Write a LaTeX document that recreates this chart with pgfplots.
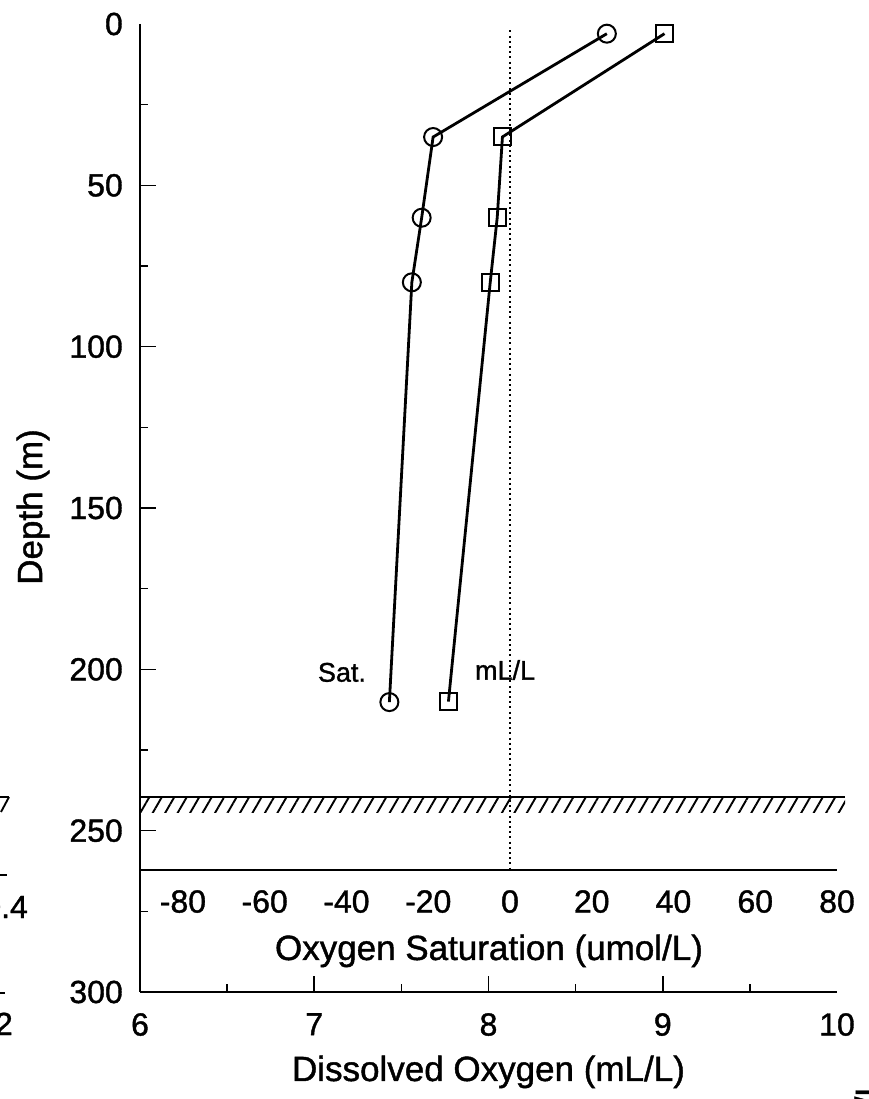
\documentclass[border=0pt]{standalone}
\usepackage{fontspec}
\setmainfont{Liberation Sans}
\newfontfamily\heavysans{Liberation Sans}[FakeBold=1.2]
\usepackage{pgfplots}
\pgfplotsset{compat=1.18}
\usetikzlibrary{patterns.meta}

\newcommand\tickfont{\heavysans\fontsize{32}{38}\selectfont}
\newcommand\titlefont{\heavysans\fontsize{35}{42}\selectfont}
\newcommand\notefont{\heavysans\fontsize{27}{32}\selectfont}

% Oxygen saturation anomaly (circles) and dissolved oxygen (squares) vs depth
\pgfplotstableread{
sat    depth
23.7   3
-18.8  35
-21.6  60
-24.0  80
-29.5  210
}\satdata
\pgfplotstableread{
do     depth
9.01   3
8.08   35
8.05   60
8.01   80
7.77   210
}\dodata

\begin{document}
\begin{tikzpicture}[x=1pt,y=1pt]
\useasboundingbox (0,0) rectangle (869,1099);

% main frame: dissolved oxygen against depth
\begin{axis}[
  at={(140pt,107pt)}, anchor=south west,
  scale only axis, width=697pt, height=968pt,
  xmin=6, xmax=10, ymin=0, ymax=300, y dir=reverse,
  axis x line=bottom, axis y line=left,
  axis line style={-, line width=2.6pt},
  every tick/.style={black, line width=1.6pt},
  tick align=inside,
  major tick length=16pt, minor tick length=8pt,
  xtick={7,8,9}, minor xtick={6.5,7.5,8.5,9.5},
  extra x ticks={6,10},
  extra x tick style={major tick length=0pt},
  ytick={50,100,150,200,250}, minor ytick={25,75,...,275},
  extra y ticks={0,300},
  extra y tick style={major tick length=0pt},
  /pgf/number format/assume math mode=true,
  xticklabel style={font=\tickfont, inner sep=0pt, anchor=north, yshift=-21pt},
  yticklabel style={font=\tickfont, inner sep=0pt, anchor=east, xshift=-17pt},
  clip=false,
]
% sea floor band
\fill[pattern={Lines[angle=60,distance=10.8pt,line width=1.9pt]}]
  (axis cs:6,239.5) rectangle (axis cs:10.046,244.5);
\draw[line width=2.4pt] (axis cs:6,239.5) -- (axis cs:10.046,239.5);
\addplot[black, line width=2.8pt, mark=square, mark size=8.5pt,
  mark options={line width=2pt, fill=none, solid}]
  table[x=do, y=depth] {\dodata};
\node[font=\notefont] at (axis cs:8.095,200.2) {mL/L};
\end{axis}

% saturation scale drawn inside the frame
\begin{axis}[
  at={(140pt,229pt)}, anchor=south west,
  scale only axis, width=697pt, height=846pt,
  xmin=-90.5, xmax=80, ymin=0, ymax=262, y dir=reverse,
  axis x line=bottom, axis y line=none,
  axis line style={-, line width=2.4pt},
  xtick={-80,-60,-40,-20,0,20,40,60,80},
  xticklabels={-80,-60,-40,-20,0,20,40,60,80},
  major tick length=0pt,
  xticklabel style={font=\tickfont, inner sep=0pt, anchor=north, yshift=-20pt},
  ytick=\empty,
  clip=false,
]
\addplot[black, line width=2pt, dash pattern=on 2pt off 3.2pt]
  coordinates {(0,2) (0,262)};
\addplot[black, line width=2.8pt, mark=o, mark size=9pt,
  mark options={line width=2pt, fill=none, solid}]
  table[x=sat, y=depth] {\satdata};
\node[font=\notefont] at (axis cs:-41.1,200.8) {Sat.};
\end{axis}

% axis titles
\node[font=\titlefont, anchor=base] at (488.5,18) {Dissolved Oxygen (mL/L)};
\node[font=\titlefont, anchor=base] at (489,139) {Oxygen Saturation (umol/L)};
\node[font=\titlefont, rotate=90, anchor=center] at (33,592) {Depth (m)};

% edge of the neighbouring panel
\node[font=\tickfont, anchor=east, inner sep=0pt] at (28,192) {0.4};
\node[font=\tickfont, anchor=east, inner sep=0pt] at (13,75) {0.2};
\draw[line width=1.6pt] (0,224) -- (7,224);
\draw[line width=1.6pt] (0,106) -- (5,106);
\draw[line width=2.2pt] (0,302) -- (9,302);
\draw[line width=1.9pt] (1,287) -- (9,302);
\node[font=\titlefont, rotate=90, anchor=base east, inner sep=0pt] at (880,22) {(mL/L};
\end{tikzpicture}
\end{document}
